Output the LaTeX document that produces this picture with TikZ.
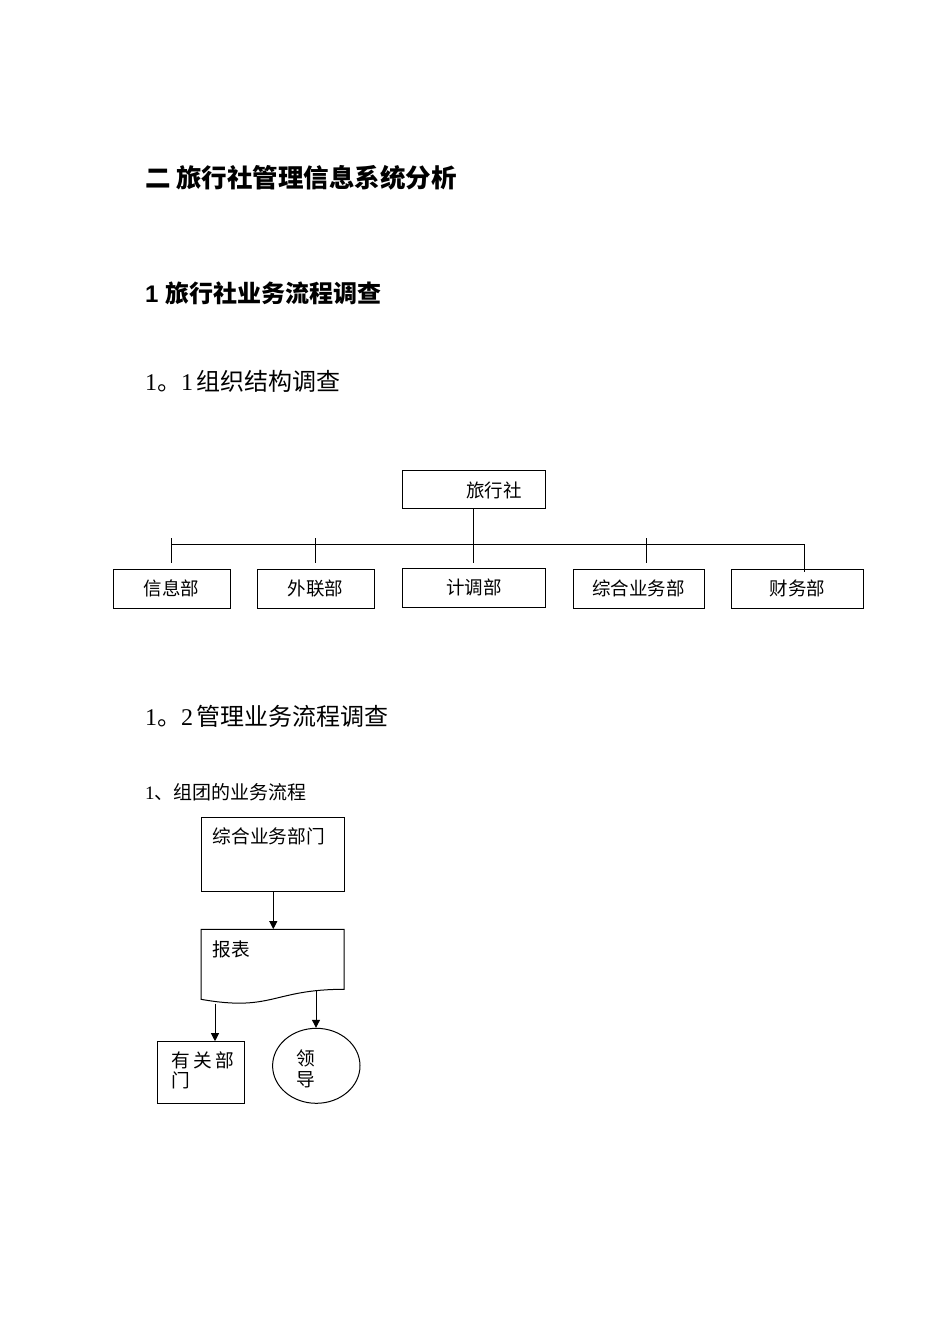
\documentclass[tikz,border=0pt]{standalone}
\usepackage{fontspec}
\setmainfont{Liberation Serif}
\newfontfamily\cjk{Noto Sans CJK SC}
\newfontfamily\lsans{Liberation Sans}
\usetikzlibrary{arrows.meta,shapes.geometric}
\tikzset{
  txt/.style={anchor=west,inner sep=0pt,outer sep=0pt},
  boxtxt/.style={inner sep=0pt,outer sep=0pt,font=\cjk\fontsize{18.5pt}{22pt}\selectfont},
  flowtxt/.style={anchor=west,inner sep=0pt,outer sep=0pt,font=\cjk\fontsize{18.7pt}{22pt}\selectfont},
  obox/.style={draw,line width=1pt,rectangle,inner sep=0pt,minimum height=38.5pt},
  conn/.style={line width=1pt},
  arr/.style={line width=1pt,-{Triangle[length=8pt,width=8pt]}},
}
\begin{document}
\begin{tikzpicture}[x=1pt,y=-1pt]
\useasboundingbox[fill=white] (0,0) rectangle (950,1344);

% headings
\node[txt] (h1) at (145,177.5) {\fontsize{25.5pt}{30pt}\selectfont\cjk\bfseries 二 旅行社管理信息系统分析};
\node[txt] (h2) at (145,293) {\fontsize{24pt}{28pt}\selectfont{\lsans\bfseries 1 }{\cjk\bfseries 旅行社业务流程调查}};
\node[txt] (h3) at (145,381.7) {\fontsize{24pt}{28pt}\selectfont 1{\cjk 。}1\hspace{3pt}{\cjk 组织结构调查}};
\node[txt] (h4) at (145,716) {\fontsize{24pt}{28pt}\selectfont 1{\cjk 。}2\hspace{3pt}{\cjk 管理业务流程调查}};
\node[txt] (h5) at (145,792.5) {\fontsize{19pt}{22pt}\selectfont 1{\cjk 、组团的业务流程}};

% org chart
\node[obox,minimum width=143.4pt,minimum height=37.6pt] (top) at (474,489.5) {};
\node[boxtxt] (topt) at (494,490) {旅行社};
\node[obox,minimum width=116.7pt] (d1) at (171.7,588.8) {};
\node[boxtxt] at (d1) {信息部};
\node[obox,minimum width=116.7pt] (d2) at (315.7,588.8) {};
\node[boxtxt] at (d2) {外联部};
\node[obox,minimum width=143.4pt] (d3) at (474,587.8) {};
\node[boxtxt] at (d3) {计调部};
\node[obox,minimum width=130.7pt] (d4) at (638.7,588.8) {};
\node[boxtxt] at (d4) {综合业务部};
\node[obox,minimum width=131.6pt] (d5) at (797.5,588.8) {};
\node[boxtxt] at (d5) {财务部};

\coordinate (b1) at (171.7,544);
\coordinate (b5) at (804.3,544);
\coordinate (t1) at (171.7,538.3);
\coordinate (t2) at (315,538.3);
\coordinate (t4) at (646,538.3);
\coordinate (e1) at (171.7,563.3);
\coordinate (e2) at (315,563.3);
\coordinate (e4) at (646,563.3);
\coordinate (e3) at (473.3,562.7);
\coordinate (e5) at (804.3,571.7);
\coordinate (s3) at (473.3,508.3);

\draw[conn] (b1) -- (b5) -- (e5);
\draw[conn] (t1) -- (e1);
\draw[conn] (t2) -- (e2);
\draw[conn] (t4) -- (e4);
\draw[conn] (s3) -- (e3);

% flowchart
\node[obox,minimum width=143pt,minimum height=74pt] (fa) at (272.5,854.7) {};
\node[flowtxt] (fat) at (212.7,836.7) {综合业务部门};

\draw[line width=1pt] (201,929.3) -- (344,929.3) -- (344,989.3)
   .. controls (272.5,989.3) and (272.5,1012) .. (201,999.3) -- cycle;
\node[inner sep=0pt,minimum width=143pt,minimum height=60pt] (doc) at (272.5,959.3) {};
\node[flowtxt] (doct) at (212.7,949) {报表};

\node[obox,minimum width=86.7pt,minimum height=61.6pt] (fb) at (200.7,1072.5) {};
\node[flowtxt] at (171.7,1060.5) {有\hspace{3pt}关\hspace{3pt}部};
\node[flowtxt] at (171.7,1080) {门};

\node[draw,line width=1pt,ellipse,inner sep=0pt,minimum width=87.4pt,minimum height=75pt] (fc) at (316.3,1065.8) {};
\node[flowtxt] at (296.7,1058.3) {领};
\node[flowtxt] at (296.7,1080) {导};

\coordinate (fas) at (273.3,891.7);
\coordinate (wl) at (215,1003.5);
\coordinate (wr) at (316,990.7);

\draw[arr] (fas) -- (fas |- doc.north);
\draw[arr] (wl) -- (wl |- fb.north);
\draw[arr] (wr) -- (wr |- fc.north);
\end{tikzpicture}
\end{document}
